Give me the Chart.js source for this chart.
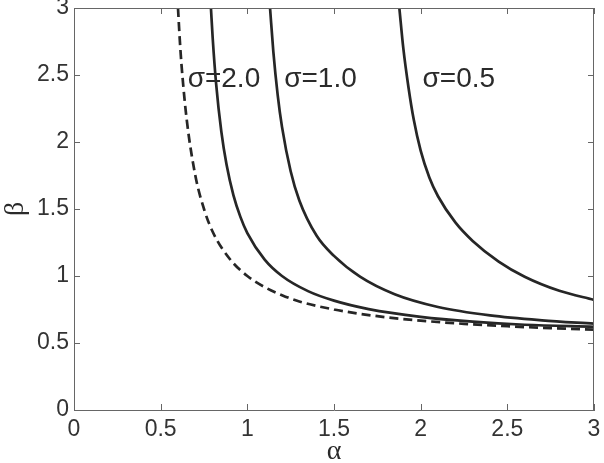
<!DOCTYPE html>
<html><head><meta charset="utf-8">
<script src="https://cdn.jsdelivr.net/npm/chart.js@4.4.1/dist/chart.umd.min.js"></script>
<style>html,body{margin:0;padding:0;background:#fff}#wrap{width:604px;height:463px}</style>
</head><body><div id="wrap"><canvas id="c" width="604" height="463"></canvas></div>
<script>
// Data
const tickValues = [0, 0.5, 1, 1.5, 2, 2.5, 3];
const tickLabels = ["0", "0.5", "1", "1.5", "2", "2.5", "3"];

const dashedAlpha = [0.60, 0.61, 0.62, 0.65, 0.70, 0.75, 0.80, 0.90, 1.00, 1.10, 1.20, 1.30, 1.50, 1.75, 2.00, 2.25, 2.50, 2.75, 3.00];
const dashedBeta  = [3.00, 2.77, 2.58, 2.17, 1.75, 1.50, 1.33, 1.125, 1.00, 0.917, 0.857, 0.81, 0.75, 0.70, 0.667, 0.643, 0.625, 0.611, 0.60];

const s2Alpha = [0.79, 0.80, 0.82, 0.85, 0.88, 0.92, 0.96, 1.00, 1.10, 1.20, 1.35, 1.50, 1.70, 2.00, 2.30, 2.60, 3.00];
const s2Beta  = [3.00, 2.778, 2.434, 2.077, 1.832, 1.602, 1.441, 1.320, 1.122, 1.000, 0.887, 0.816, 0.753, 0.695, 0.659, 0.636, 0.621];

const s1Alpha = [1.131, 1.15, 1.175, 1.20, 1.25, 1.30, 1.40, 1.50, 1.65, 1.85, 2.10, 2.40, 2.70, 3.00];
const s1Beta  = [3.00, 2.674, 2.352, 2.113, 1.782, 1.564, 1.300, 1.150, 0.995, 0.864, 0.769, 0.706, 0.669, 0.644];

const s05Alpha = [1.877, 1.90, 1.93, 1.96, 2.00, 2.05, 2.10, 2.20, 2.30, 2.45, 2.60, 2.80, 3.00];
const s05Beta  = [3.00, 2.698, 2.405, 2.167, 1.935, 1.735, 1.595, 1.400, 1.262, 1.108, 0.995, 0.890, 0.822];

const curveLabels = ["σ=2.0", "σ=1.0", "σ=0.5"];
const labelAlpha = [0.865, 1.422, 2.22];
const labelBeta = [2.47, 2.47, 2.47];

const toPts = (xs, ys) => xs.map((x, i) => ({x: x, y: ys[i]}));
const lineCol = '#262626';

const boxPlugin = {
  id: 'box',
  afterDraw(chart) {
    const {ctx, chartArea: a, scales: {x, y}} = chart;
    ctx.save();
    ctx.strokeStyle = '#666';
    ctx.lineWidth = 1;
    ctx.beginPath();
    ctx.moveTo(a.left, a.top + 0.5); ctx.lineTo(a.right, a.top + 0.5);
    ctx.moveTo(a.right - 0.5, a.top); ctx.lineTo(a.right - 0.5, a.bottom);
    const L = 6;
    tickValues.forEach(v => {
      const px = Math.round(x.getPixelForValue(v)) + 0.5;
      ctx.moveTo(px, a.bottom); ctx.lineTo(px, a.bottom - L);
      ctx.moveTo(px, a.top); ctx.lineTo(px, a.top + L);
      const py = Math.round(y.getPixelForValue(v)) + 0.5;
      ctx.moveTo(a.left, py); ctx.lineTo(a.left + L, py);
      ctx.moveTo(a.right, py); ctx.lineTo(a.right - L, py);
    });
    ctx.stroke();
    // curve labels
    ctx.fillStyle = '#2a2a2a';
    ctx.font = '28px "Liberation Sans", Arial, sans-serif';
    ctx.textAlign = 'center';
    ctx.textBaseline = 'middle';
    curveLabels.forEach((t, i) => {
      ctx.fillText(t, x.getPixelForValue(labelAlpha[i]), y.getPixelForValue(labelBeta[i]));
    });
    // axis titles
    ctx.font = '28px "Liberation Serif", "DejaVu Serif", serif';
    ctx.fillText('α', (a.left + a.right) / 2, 452);
    ctx.translate(16, 209);
    ctx.rotate(-Math.PI / 2);
    ctx.fillText('β', 0, 0);
    ctx.restore();
  }
};

new Chart(document.getElementById('c'), {
  type: 'scatter',
  data: {
    datasets: [
      {data: toPts(dashedAlpha, dashedBeta), borderDash: [9, 5]},
      {data: toPts(s2Alpha, s2Beta)},
      {data: toPts(s1Alpha, s1Beta)},
      {data: toPts(s05Alpha, s05Beta)}
    ].map(d => Object.assign({
      showLine: true, pointRadius: 0, borderWidth: 2.7, borderColor: lineCol,
      backgroundColor: lineCol, cubicInterpolationMode: 'monotone', fill: false
    }, d))
  },
  options: {
    responsive: false,
    animation: false,
    devicePixelRatio: 1,
    layout: {padding: {left: 0, right: 10, top: 8, bottom: 0}},
    plugins: {legend: {display: false}, tooltip: {enabled: false}},
    scales: {
      x: {
        type: 'linear', min: 0, max: 3,
        afterFit: s => { s.height = 53; s.paddingLeft = 0; s.paddingRight = 0; },
        afterBuildTicks: s => { s.ticks = tickValues.map(v => ({value: v})); },
        grid: {drawOnChartArea: false, drawTicks: false},
        border: {display: true, color: '#666', width: 1},
        ticks: {
          padding: 6, color: '#333', font: {family: '"Liberation Sans", Arial, sans-serif', size: 23},
          maxRotation: 0, autoSkip: false,
          callback: (v) => tickLabels[tickValues.indexOf(v)]
        }
      },
      y: {
        type: 'linear', min: 0, max: 3,
        afterFit: s => { s.width = 74; s.paddingTop = 0; s.paddingBottom = 0; },
        afterBuildTicks: s => { s.ticks = tickValues.map(v => ({value: v})); },
        grid: {drawOnChartArea: false, drawTicks: false},
        border: {display: true, color: '#666', width: 1},
        ticks: {
          padding: 5, color: '#333', font: {family: '"Liberation Sans", Arial, sans-serif', size: 23},
          autoSkip: false,
          callback: (v) => tickLabels[tickValues.indexOf(v)]
        }
      }
    }
  },
  plugins: [boxPlugin]
});
</script>
</body></html>
